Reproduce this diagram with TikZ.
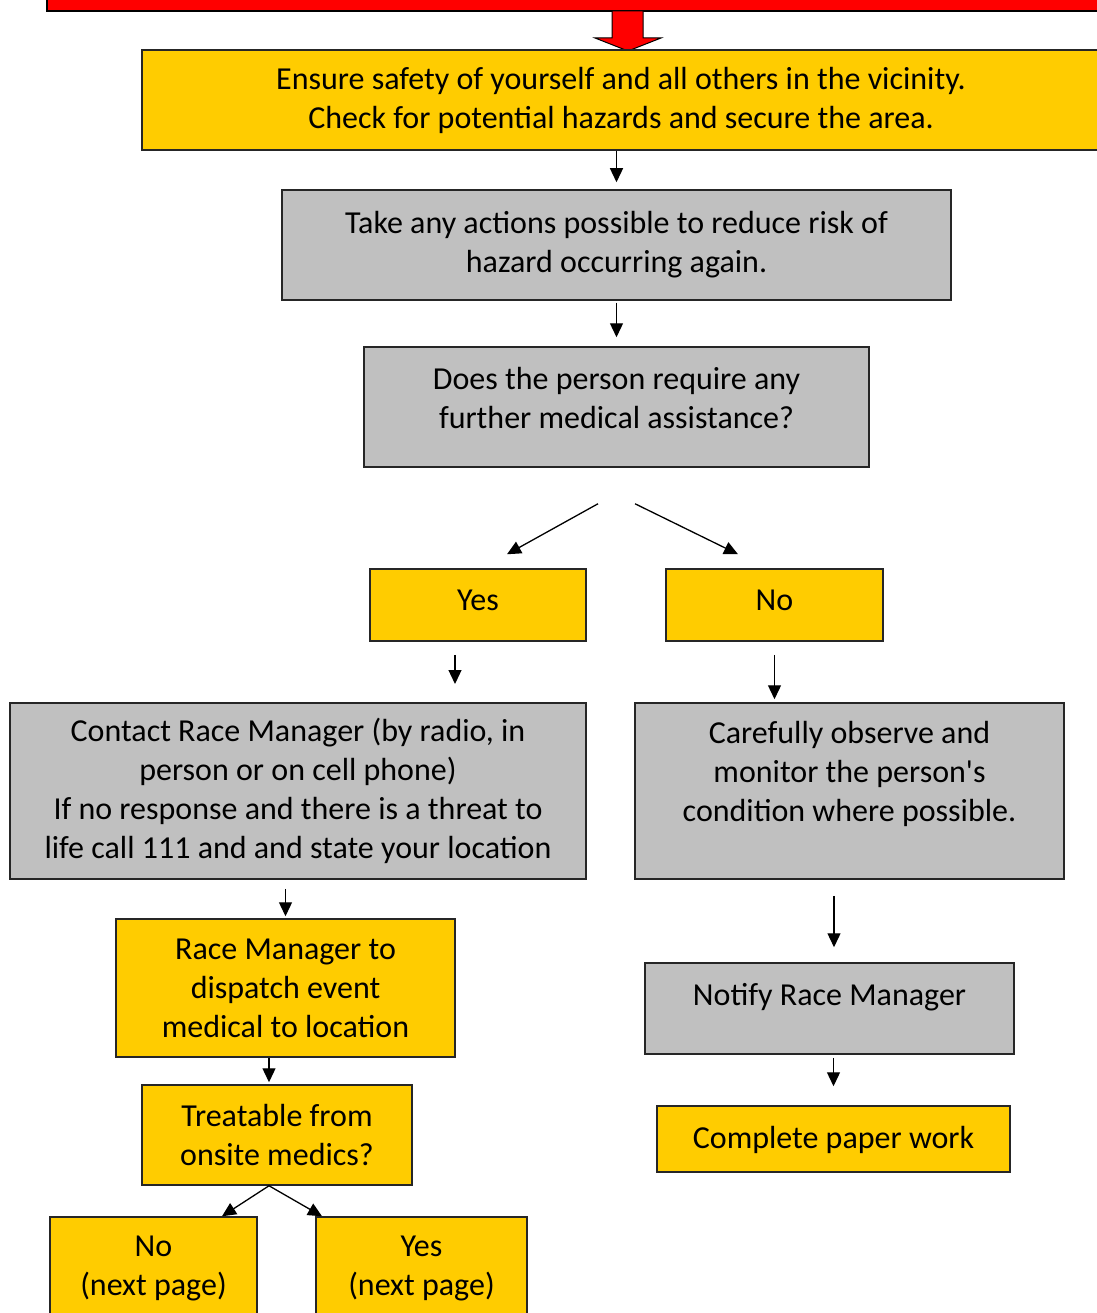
\documentclass[tikz,border=0pt]{standalone}
\usepackage{fontspec}
\newfontfamily\calib{Carlito}
\usetikzlibrary{arrows.meta}
\definecolor{boxyellow}{HTML}{FFCC00}
\definecolor{boxgray}{HTML}{C0C0C0}
\begin{document}
\begin{tikzpicture}[x=1pt,y=-1pt,>={Triangle[width=13pt,length=14pt]},
    box/.style={draw=black!85,line width=1.5pt,align=center,inner sep=0pt,
        font=\calib\fontsize{32}{39}\selectfont},
    ybox/.style={box,fill=boxyellow},
    gbox/.style={box,fill=boxgray},
    link/.style={->,line width=1.3pt}]
    \useasboundingbox (0,0) rectangle (1096,1313);
    % banner and big arrow
    \filldraw[fill=red,draw=black,line width=1.5pt] (47,-20) rectangle (1110,11);
    \filldraw[fill=red,draw=black,line width=1pt]
        (612,11) -- (612,38) -- (595,38) -- (628,51) -- (661,38) -- (643,38) -- (643,11) -- cycle;
    % boxes
    \node[ybox,minimum width=958,minimum height=100] (ensure) at (621,100)
        {Ensure safety of yourself and all others in the vicinity.\\Check for potential hazards and secure the area.};
    \node[gbox,minimum width=669,minimum height=110] (take) at (616.5,245)
        {Take any actions possible to reduce risk of\\hazard occurring again.\\[-32pt]\mbox{}};
    \node[gbox,minimum width=505,minimum height=120] (does) at (616.5,407)
        {Does the person require any\\further medical assistance?\\[-20pt]\mbox{}};
    \node[ybox,minimum width=216,minimum height=72] (yes) at (478,605) {Yes\\[-29pt]\mbox{}};
    \node[ybox,minimum width=217,minimum height=72] (no) at (774.5,605) {No\\[-29pt]\mbox{}};
    \node[gbox,minimum width=576,minimum height=176] (contact) at (298,791)
        {Contact Race Manager (by radio, in\\person or on cell phone)\\If no response and there is a threat to\\life call 111 and and state your location};
    \node[gbox,minimum width=429,minimum height=176] (careful) at (849.5,791)
        {Carefully observe and\\monitor the person's\\condition where possible.\\\mbox{}};
    \node[ybox,minimum width=339,minimum height=138] (race) at (285.5,988)
        {Race Manager to\\dispatch event\\medical to location};
    \node[ybox,minimum width=270,minimum height=100] (treat) at (277,1135)
        {Treatable from\\onsite medics?};
    \node[ybox,minimum width=207,minimum height=102] (nopage) at (153.5,1268)
        {No\\(next page)};
    \node[ybox,minimum width=211,minimum height=102] (yespage) at (421.5,1268)
        {Yes\\(next page)};
    \node[gbox,minimum width=369,minimum height=91] (notify) at (829.5,1008.5)
        {Notify Race Manager\\[-11pt]\mbox{}};
    \node[ybox,minimum width=353,minimum height=66] (complete) at (833.5,1139)
        {Complete paper work\\[-35pt]\mbox{}};
    % arrows
    \draw[link] (ensure.south -| take.north) -- ([yshift=7pt]take.north);
    \draw[link] ([yshift=-2pt]take.south) -- ([yshift=9pt]does.north);
    \draw[link] ([shift={(-18.5pt,-36pt)}]does.south) -- ([shift={(29pt,14pt)}]yes.north);
    \draw[link] ([shift={(18.5pt,-36pt)}]does.south) -- ([shift={(-36.5pt,14pt)}]no.north);
    \draw[link] ([shift={(-23pt,-13pt)}]yes.south) -- ([shift={(-23pt,0pt)}]yes.south |- 0,684);
    \draw[link] ([yshift=-13pt]no.south) -- ([yshift=3pt]no.south |- careful.north);
    \draw[link] ([yshift=-9pt]contact.south -| race.north) -- ([yshift=2pt]race.north);
    \draw[link] ([xshift=-16.5pt]race.south) -- ([shift={(-8pt,2pt)}]treat.north);
    \draw[link] ([xshift=-8pt]treat.south) -- ([xshift=68.5pt]nopage.north);
    \draw[link] ([xshift=-8pt]treat.south) -- ([xshift=-99.5pt]yespage.north);
    \draw[link] ([shift={(4.5pt,-16pt)}]notify.north |- careful.south) -- ([shift={(4.5pt,15pt)}]notify.north);
    \draw[link] ([yshift=-3pt]notify.south -| complete.north) -- ([yshift=19pt]complete.north);
\end{tikzpicture}
\end{document}
